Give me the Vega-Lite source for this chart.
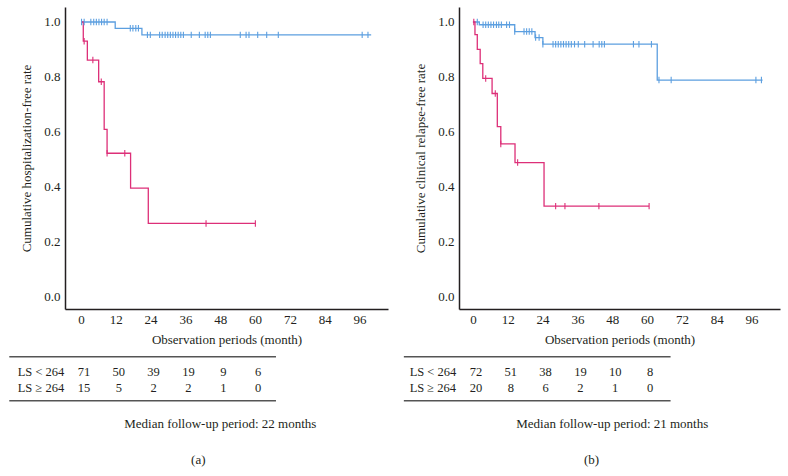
{
  "$schema": "https://vega.github.io/schema/vega-lite/v6.json",
  "padding": {"left": 8, "top": 7, "right": 5, "bottom": 5},
  "spacing": 15,
  "datasets": {
    "km": [
      {"p": "a", "g": "LS < 264", "t": 0, "s": 1},
      {"p": "a", "g": "LS < 264", "t": 11.8, "s": 0.977},
      {"p": "a", "g": "LS < 264", "t": 21.0, "s": 0.953},
      {"p": "a", "g": "LS < 264", "t": 100, "s": 0.953},
      {"p": "a", "g": "LS ≥ 264", "t": 0, "s": 1},
      {"p": "a", "g": "LS ≥ 264", "t": 0.8, "s": 0.93},
      {"p": "a", "g": "LS ≥ 264", "t": 2.2, "s": 0.861},
      {"p": "a", "g": "LS ≥ 264", "t": 6.1, "s": 0.782},
      {"p": "a", "g": "LS ≥ 264", "t": 8.0, "s": 0.608},
      {"p": "a", "g": "LS ≥ 264", "t": 9.0, "s": 0.521},
      {"p": "a", "g": "LS ≥ 264", "t": 17.1, "s": 0.394},
      {"p": "a", "g": "LS ≥ 264", "t": 23.2, "s": 0.265},
      {"p": "a", "g": "LS ≥ 264", "t": 60.1, "s": 0.265},
      {"p": "b", "g": "LS < 264", "t": 0, "s": 1},
      {"p": "b", "g": "LS < 264", "t": 2.2, "s": 0.99},
      {"p": "b", "g": "LS < 264", "t": 14.4, "s": 0.965},
      {"p": "b", "g": "LS < 264", "t": 21.4, "s": 0.943},
      {"p": "b", "g": "LS < 264", "t": 24.1, "s": 0.919},
      {"p": "b", "g": "LS < 264", "t": 63.5, "s": 0.788},
      {"p": "b", "g": "LS < 264", "t": 99.8, "s": 0.788},
      {"p": "b", "g": "LS ≥ 264", "t": 0, "s": 1},
      {"p": "b", "g": "LS ≥ 264", "t": 0.7, "s": 0.954},
      {"p": "b", "g": "LS ≥ 264", "t": 1.5, "s": 0.9},
      {"p": "b", "g": "LS ≥ 264", "t": 2.5, "s": 0.848},
      {"p": "b", "g": "LS ≥ 264", "t": 3.4, "s": 0.794},
      {"p": "b", "g": "LS ≥ 264", "t": 6.6, "s": 0.739},
      {"p": "b", "g": "LS ≥ 264", "t": 8.4, "s": 0.618},
      {"p": "b", "g": "LS ≥ 264", "t": 9.6, "s": 0.555},
      {"p": "b", "g": "LS ≥ 264", "t": 14.5, "s": 0.487},
      {"p": "b", "g": "LS ≥ 264", "t": 24.5, "s": 0.328},
      {"p": "b", "g": "LS ≥ 264", "t": 60.7, "s": 0.328}
    ],
    "cens": [
      {"p": "a", "g": "LS < 264", "t": 0.2, "s": 1},
      {"p": "a", "g": "LS < 264", "t": 1.1, "s": 1},
      {"p": "a", "g": "LS < 264", "t": 3.4, "s": 1},
      {"p": "a", "g": "LS < 264", "t": 4.4, "s": 1},
      {"p": "a", "g": "LS < 264", "t": 5.3, "s": 1},
      {"p": "a", "g": "LS < 264", "t": 6.2, "s": 1},
      {"p": "a", "g": "LS < 264", "t": 7.1, "s": 1},
      {"p": "a", "g": "LS < 264", "t": 8.0, "s": 1},
      {"p": "a", "g": "LS < 264", "t": 9.0, "s": 1},
      {"p": "a", "g": "LS < 264", "t": 17.0, "s": 0.977},
      {"p": "a", "g": "LS < 264", "t": 17.9, "s": 0.977},
      {"p": "a", "g": "LS < 264", "t": 18.9, "s": 0.977},
      {"p": "a", "g": "LS < 264", "t": 19.8, "s": 0.977},
      {"p": "a", "g": "LS < 264", "t": 22.9, "s": 0.953},
      {"p": "a", "g": "LS < 264", "t": 23.9, "s": 0.953},
      {"p": "a", "g": "LS < 264", "t": 27.1, "s": 0.953},
      {"p": "a", "g": "LS < 264", "t": 28.0, "s": 0.953},
      {"p": "a", "g": "LS < 264", "t": 29.0, "s": 0.953},
      {"p": "a", "g": "LS < 264", "t": 29.9, "s": 0.953},
      {"p": "a", "g": "LS < 264", "t": 30.8, "s": 0.953},
      {"p": "a", "g": "LS < 264", "t": 31.7, "s": 0.953},
      {"p": "a", "g": "LS < 264", "t": 32.6, "s": 0.953},
      {"p": "a", "g": "LS < 264", "t": 33.5, "s": 0.953},
      {"p": "a", "g": "LS < 264", "t": 34.4, "s": 0.953},
      {"p": "a", "g": "LS < 264", "t": 35.3, "s": 0.953},
      {"p": "a", "g": "LS < 264", "t": 38.0, "s": 0.953},
      {"p": "a", "g": "LS < 264", "t": 40.8, "s": 0.953},
      {"p": "a", "g": "LS < 264", "t": 42.8, "s": 0.953},
      {"p": "a", "g": "LS < 264", "t": 43.7, "s": 0.953},
      {"p": "a", "g": "LS < 264", "t": 44.6, "s": 0.953},
      {"p": "a", "g": "LS < 264", "t": 54.9, "s": 0.953},
      {"p": "a", "g": "LS < 264", "t": 56.9, "s": 0.953},
      {"p": "a", "g": "LS < 264", "t": 57.9, "s": 0.953},
      {"p": "a", "g": "LS < 264", "t": 60.9, "s": 0.953},
      {"p": "a", "g": "LS < 264", "t": 64.0, "s": 0.953},
      {"p": "a", "g": "LS < 264", "t": 68.0, "s": 0.953},
      {"p": "a", "g": "LS < 264", "t": 96.9, "s": 0.953},
      {"p": "a", "g": "LS < 264", "t": 98.9, "s": 0.953},
      {"p": "a", "g": "LS ≥ 264", "t": 1.1, "s": 0.93},
      {"p": "a", "g": "LS ≥ 264", "t": 4.1, "s": 0.861},
      {"p": "a", "g": "LS ≥ 264", "t": 7.0, "s": 0.782},
      {"p": "a", "g": "LS ≥ 264", "t": 9.0, "s": 0.521},
      {"p": "a", "g": "LS ≥ 264", "t": 15.1, "s": 0.521},
      {"p": "a", "g": "LS ≥ 264", "t": 43.1, "s": 0.265},
      {"p": "a", "g": "LS ≥ 264", "t": 60.1, "s": 0.265},
      {"p": "b", "g": "LS < 264", "t": 1.5, "s": 1},
      {"p": "b", "g": "LS < 264", "t": 3.5, "s": 0.99},
      {"p": "b", "g": "LS < 264", "t": 4.4, "s": 0.99},
      {"p": "b", "g": "LS < 264", "t": 5.3, "s": 0.99},
      {"p": "b", "g": "LS < 264", "t": 6.2, "s": 0.99},
      {"p": "b", "g": "LS < 264", "t": 7.1, "s": 0.99},
      {"p": "b", "g": "LS < 264", "t": 8.1, "s": 0.99},
      {"p": "b", "g": "LS < 264", "t": 8.9, "s": 0.99},
      {"p": "b", "g": "LS < 264", "t": 9.8, "s": 0.99},
      {"p": "b", "g": "LS < 264", "t": 11.6, "s": 0.99},
      {"p": "b", "g": "LS < 264", "t": 12.6, "s": 0.99},
      {"p": "b", "g": "LS < 264", "t": 14.4, "s": 0.965},
      {"p": "b", "g": "LS < 264", "t": 17.6, "s": 0.965},
      {"p": "b", "g": "LS < 264", "t": 18.5, "s": 0.965},
      {"p": "b", "g": "LS < 264", "t": 19.4, "s": 0.965},
      {"p": "b", "g": "LS < 264", "t": 20.3, "s": 0.965},
      {"p": "b", "g": "LS < 264", "t": 21.6, "s": 0.943},
      {"p": "b", "g": "LS < 264", "t": 22.8, "s": 0.943},
      {"p": "b", "g": "LS < 264", "t": 24.1, "s": 0.919},
      {"p": "b", "g": "LS < 264", "t": 27.6, "s": 0.919},
      {"p": "b", "g": "LS < 264", "t": 28.5, "s": 0.919},
      {"p": "b", "g": "LS < 264", "t": 29.4, "s": 0.919},
      {"p": "b", "g": "LS < 264", "t": 30.3, "s": 0.919},
      {"p": "b", "g": "LS < 264", "t": 31.2, "s": 0.919},
      {"p": "b", "g": "LS < 264", "t": 32.1, "s": 0.919},
      {"p": "b", "g": "LS < 264", "t": 33.0, "s": 0.919},
      {"p": "b", "g": "LS < 264", "t": 33.9, "s": 0.919},
      {"p": "b", "g": "LS < 264", "t": 35.0, "s": 0.919},
      {"p": "b", "g": "LS < 264", "t": 36.3, "s": 0.919},
      {"p": "b", "g": "LS < 264", "t": 38.5, "s": 0.919},
      {"p": "b", "g": "LS < 264", "t": 41.4, "s": 0.919},
      {"p": "b", "g": "LS < 264", "t": 43.5, "s": 0.919},
      {"p": "b", "g": "LS < 264", "t": 44.4, "s": 0.919},
      {"p": "b", "g": "LS < 264", "t": 45.3, "s": 0.919},
      {"p": "b", "g": "LS < 264", "t": 55.3, "s": 0.919},
      {"p": "b", "g": "LS < 264", "t": 57.2, "s": 0.919},
      {"p": "b", "g": "LS < 264", "t": 61.5, "s": 0.919},
      {"p": "b", "g": "LS < 264", "t": 64.1, "s": 0.788},
      {"p": "b", "g": "LS < 264", "t": 68.3, "s": 0.788},
      {"p": "b", "g": "LS < 264", "t": 97.5, "s": 0.788},
      {"p": "b", "g": "LS < 264", "t": 99.4, "s": 0.788},
      {"p": "b", "g": "LS ≥ 264", "t": 0.3, "s": 1},
      {"p": "b", "g": "LS ≥ 264", "t": 4.4, "s": 0.794},
      {"p": "b", "g": "LS ≥ 264", "t": 7.7, "s": 0.739},
      {"p": "b", "g": "LS ≥ 264", "t": 9.6, "s": 0.555},
      {"p": "b", "g": "LS ≥ 264", "t": 15.4, "s": 0.487},
      {"p": "b", "g": "LS ≥ 264", "t": 28.5, "s": 0.328},
      {"p": "b", "g": "LS ≥ 264", "t": 31.7, "s": 0.328},
      {"p": "b", "g": "LS ≥ 264", "t": 43.4, "s": 0.328},
      {"p": "b", "g": "LS ≥ 264", "t": 60.7, "s": 0.328}
    ],
    "risk": [
      {"p": "a", "g": "LS < 264", "m": 0, "n": 71},
      {"p": "a", "g": "LS < 264", "m": 12, "n": 50},
      {"p": "a", "g": "LS < 264", "m": 24, "n": 39},
      {"p": "a", "g": "LS < 264", "m": 36, "n": 19},
      {"p": "a", "g": "LS < 264", "m": 48, "n": 9},
      {"p": "a", "g": "LS < 264", "m": 60, "n": 6},
      {"p": "a", "g": "LS ≥ 264", "m": 0, "n": 15},
      {"p": "a", "g": "LS ≥ 264", "m": 12, "n": 5},
      {"p": "a", "g": "LS ≥ 264", "m": 24, "n": 2},
      {"p": "a", "g": "LS ≥ 264", "m": 36, "n": 2},
      {"p": "a", "g": "LS ≥ 264", "m": 48, "n": 1},
      {"p": "a", "g": "LS ≥ 264", "m": 60, "n": 0},
      {"p": "b", "g": "LS < 264", "m": 0, "n": 72},
      {"p": "b", "g": "LS < 264", "m": 12, "n": 51},
      {"p": "b", "g": "LS < 264", "m": 24, "n": 38},
      {"p": "b", "g": "LS < 264", "m": 36, "n": 19},
      {"p": "b", "g": "LS < 264", "m": 48, "n": 10},
      {"p": "b", "g": "LS < 264", "m": 60, "n": 8},
      {"p": "b", "g": "LS ≥ 264", "m": 0, "n": 20},
      {"p": "b", "g": "LS ≥ 264", "m": 12, "n": 8},
      {"p": "b", "g": "LS ≥ 264", "m": 24, "n": 6},
      {"p": "b", "g": "LS ≥ 264", "m": 36, "n": 2},
      {"p": "b", "g": "LS ≥ 264", "m": 48, "n": 1},
      {"p": "b", "g": "LS ≥ 264", "m": 60, "n": 0}
    ],
    "notes": [
      {"p": "a", "text": "Median follow-up period: 22 months"},
      {"p": "b", "text": "Median follow-up period: 21 months"}
    ]
  },
  "hconcat": [
    {
      "width": 323,
      "height": 302,
      "title": {"text": "(a)", "orient": "bottom", "frame": "bounds", "anchor": "middle", "offset": 23},
      "layer": [
        {
          "data": {"name": "km"},
          "transform": [{"filter": "datum.p === 'a'"}],
          "mark": {"type": "line", "interpolate": "step-after", "strokeWidth": 1.3},
          "encoding": {
            "x": {"field": "t", "type": "quantitative", "scale": {"domain": [-5.5, 105.8], "nice": false, "zero": false},
                  "axis": {"values": [0, 12, 24, 36, 48, 60, 72, 84, 96], "title": "Observation periods (month)", "labelPadding": 4, "titlePadding": 7}},
            "y": {"field": "s", "type": "quantitative", "scale": {"domain": [-0.0474, 1.0547], "nice": false, "zero": false},
                  "axis": {"values": [0, 0.2, 0.4, 0.6, 0.8, 1], "format": ".1f", "title": "Cumulative hospitalization-free rate", "labelPadding": 5, "titlePadding": 10}},
            "color": {"field": "g", "type": "nominal", "scale": {"domain": ["LS < 264", "LS ≥ 264"], "range": ["#5c9fe0", "#dd2f78"]}, "legend": null}
          }
        },
        {
          "data": {"name": "cens"},
          "transform": [{"filter": "datum.p === 'a'"}],
          "mark": {"type": "point", "shape": "M0,-1L0,1", "filled": false, "size": 42, "strokeWidth": 1.1, "opacity": 1},
          "encoding": {
            "x": {"field": "t", "type": "quantitative"},
            "y": {"field": "s", "type": "quantitative"},
            "color": {"field": "g", "type": "nominal", "legend": null}
          }
        },
        {
          "data": {"name": "risk"},
          "transform": [{"filter": "datum.p === 'a' && datum.g === 'LS < 264'"}],
          "mark": {"type": "text", "dx": 3, "baseline": "middle"},
          "encoding": {
            "x": {"field": "m", "type": "quantitative"},
            "y": {"datum": -0.277, "type": "quantitative"},
            "text": {"field": "n", "type": "quantitative"}
          }
        },
        {
          "data": {"name": "risk"},
          "transform": [{"filter": "datum.p === 'a' && datum.g === 'LS ≥ 264'"}],
          "mark": {"type": "text", "dx": 3, "baseline": "middle"},
          "encoding": {
            "x": {"field": "m", "type": "quantitative"},
            "y": {"datum": -0.335, "type": "quantitative"},
            "text": {"field": "n", "type": "quantitative"}
          }
        },
        {
          "data": {"name": "risk"},
          "transform": [{"filter": "datum.p === 'a' && datum.m === 0 && datum.g === 'LS < 264'"}],
          "mark": {"type": "text", "align": "left", "baseline": "middle"},
          "encoding": {
            "x": {"datum": -21.8, "type": "quantitative"},
            "y": {"datum": -0.277, "type": "quantitative"},
            "text": {"field": "g", "type": "nominal"}
          }
        },
        {
          "data": {"name": "risk"},
          "transform": [{"filter": "datum.p === 'a' && datum.m === 0 && datum.g === 'LS ≥ 264'"}],
          "mark": {"type": "text", "align": "left", "baseline": "middle"},
          "encoding": {
            "x": {"datum": -21.8, "type": "quantitative"},
            "y": {"datum": -0.335, "type": "quantitative"},
            "text": {"field": "g", "type": "nominal"}
          }
        },
        {
          "data": {"name": "notes"},
          "transform": [{"filter": "datum.p === 'a'"}],
          "mark": {"type": "rule", "color": "#555555", "strokeWidth": 1.5},
          "encoding": {
            "x": {"datum": -24.7, "type": "quantitative"},
            "x2": {"datum": 67.2},
            "y": {"datum": -0.2215, "type": "quantitative"}
          }
        },
        {
          "data": {"name": "notes"},
          "transform": [{"filter": "datum.p === 'a'"}],
          "mark": {"type": "rule", "color": "#555555", "strokeWidth": 1.5},
          "encoding": {
            "x": {"datum": -24.7, "type": "quantitative"},
            "x2": {"datum": 67.2},
            "y": {"datum": -0.382, "type": "quantitative"}
          }
        },
        {
          "data": {"name": "notes"},
          "transform": [{"filter": "datum.p === 'a'"}],
          "mark": {"type": "text", "align": "center", "baseline": "middle", "fontSize": 13},
          "encoding": {
            "x": {"datum": 48, "type": "quantitative"},
            "y": {"datum": -0.467, "type": "quantitative"},
            "text": {"field": "text", "type": "nominal"}
          }
        }
      ]
    },
    {
      "width": 321,
      "height": 302,
      "title": {"text": "(b)", "orient": "bottom", "frame": "bounds", "anchor": "middle", "offset": 23},
      "layer": [
        {
          "data": {"name": "km"},
          "transform": [{"filter": "datum.p === 'b'"}],
          "mark": {"type": "line", "interpolate": "step-after", "strokeWidth": 1.3},
          "encoding": {
            "x": {"field": "t", "type": "quantitative", "scale": {"domain": [-4.8, 105.8], "nice": false, "zero": false},
                  "axis": {"values": [0, 12, 24, 36, 48, 60, 72, 84, 96], "title": "Observation periods (month)", "labelPadding": 4, "titlePadding": 7}},
            "y": {"field": "s", "type": "quantitative", "scale": {"domain": [-0.0474, 1.0547], "nice": false, "zero": false},
                  "axis": {"values": [0, 0.2, 0.4, 0.6, 0.8, 1], "format": ".1f", "title": "Cumulative clinical relapse-free rate", "labelPadding": 5, "titlePadding": 10}},
            "color": {"field": "g", "type": "nominal", "scale": {"domain": ["LS < 264", "LS ≥ 264"], "range": ["#5c9fe0", "#dd2f78"]}, "legend": null}
          }
        },
        {
          "data": {"name": "cens"},
          "transform": [{"filter": "datum.p === 'b'"}],
          "mark": {"type": "point", "shape": "M0,-1L0,1", "filled": false, "size": 42, "strokeWidth": 1.1, "opacity": 1},
          "encoding": {
            "x": {"field": "t", "type": "quantitative"},
            "y": {"field": "s", "type": "quantitative"},
            "color": {"field": "g", "type": "nominal", "legend": null}
          }
        },
        {
          "data": {"name": "risk"},
          "transform": [{"filter": "datum.p === 'b' && datum.g === 'LS < 264'"}],
          "mark": {"type": "text", "dx": 3, "baseline": "middle"},
          "encoding": {
            "x": {"field": "m", "type": "quantitative"},
            "y": {"datum": -0.277, "type": "quantitative"},
            "text": {"field": "n", "type": "quantitative"}
          }
        },
        {
          "data": {"name": "risk"},
          "transform": [{"filter": "datum.p === 'b' && datum.g === 'LS ≥ 264'"}],
          "mark": {"type": "text", "dx": 3, "baseline": "middle"},
          "encoding": {
            "x": {"field": "m", "type": "quantitative"},
            "y": {"datum": -0.335, "type": "quantitative"},
            "text": {"field": "n", "type": "quantitative"}
          }
        },
        {
          "data": {"name": "risk"},
          "transform": [{"filter": "datum.p === 'b' && datum.m === 0 && datum.g === 'LS < 264'"}],
          "mark": {"type": "text", "align": "left", "baseline": "middle"},
          "encoding": {
            "x": {"datum": -21.8, "type": "quantitative"},
            "y": {"datum": -0.277, "type": "quantitative"},
            "text": {"field": "g", "type": "nominal"}
          }
        },
        {
          "data": {"name": "risk"},
          "transform": [{"filter": "datum.p === 'b' && datum.m === 0 && datum.g === 'LS ≥ 264'"}],
          "mark": {"type": "text", "align": "left", "baseline": "middle"},
          "encoding": {
            "x": {"datum": -21.8, "type": "quantitative"},
            "y": {"datum": -0.335, "type": "quantitative"},
            "text": {"field": "g", "type": "nominal"}
          }
        },
        {
          "data": {"name": "notes"},
          "transform": [{"filter": "datum.p === 'b'"}],
          "mark": {"type": "rule", "color": "#555555", "strokeWidth": 1.5},
          "encoding": {
            "x": {"datum": -23.8, "type": "quantitative"},
            "x2": {"datum": 68.1},
            "y": {"datum": -0.2215, "type": "quantitative"}
          }
        },
        {
          "data": {"name": "notes"},
          "transform": [{"filter": "datum.p === 'b'"}],
          "mark": {"type": "rule", "color": "#555555", "strokeWidth": 1.5},
          "encoding": {
            "x": {"datum": -23.8, "type": "quantitative"},
            "x2": {"datum": 68.1},
            "y": {"datum": -0.382, "type": "quantitative"}
          }
        },
        {
          "data": {"name": "notes"},
          "transform": [{"filter": "datum.p === 'b'"}],
          "mark": {"type": "text", "align": "center", "baseline": "middle", "fontSize": 13},
          "encoding": {
            "x": {"datum": 48, "type": "quantitative"},
            "y": {"datum": -0.467, "type": "quantitative"},
            "text": {"field": "text", "type": "nominal"}
          }
        }
      ]
    }
  ],
  "config": {
    "view": {"stroke": null},
    "font": "Liberation Serif",
    "axis": {
      "domainColor": "#231f20",
      "domainWidth": 1.5,
      "ticks": false,
      "tickSize": 0,
      "grid": false,
      "labelFont": "Liberation Serif",
      "labelFontSize": 13,
      "labelColor": "#231f20",
      "labelFlush": false,
      "titleFont": "Liberation Serif",
      "titleFontSize": 13,
      "titleFontWeight": "normal",
      "titleColor": "#231f20"
    },
    "text": {"font": "Liberation Serif", "fontSize": 12.5, "color": "#231f20"},
    "title": {"font": "Liberation Serif", "fontSize": 13, "fontWeight": "normal", "color": "#231f20"}
  }
}
